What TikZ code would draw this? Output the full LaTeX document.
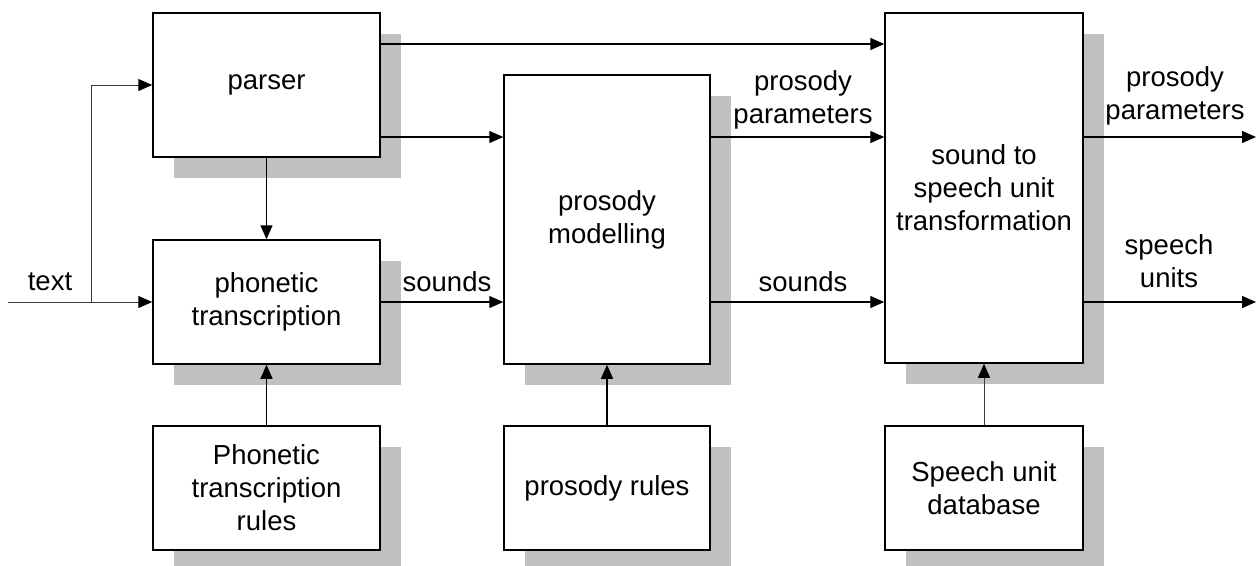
\documentclass[tikz,border=0pt]{standalone}
\usepackage{fontspec}
\setmainfont{Liberation Sans}
\usetikzlibrary{arrows.meta,shadows}
\definecolor{shadowgray}{HTML}{C0C0C0}
\definecolor{linegray}{HTML}{3A3A3A}
\tikzset{
  blk/.style={draw=black, line width=1.5pt, fill=white, align=center,
    font=\fontsize{27.5}{33}\selectfont, inner sep=0pt,
    drop shadow={shadow xshift=21pt, shadow yshift=-21pt, fill=shadowgray, opacity=1, draw=none}},
  conn/.style={line width=1.3pt, -{Triangle[length=14pt,width=12pt,color=black]}},
  thinconn/.style={line width=1pt, draw=linegray, -{Triangle[length=14pt,width=12pt,color=black]}},
  lbl/.style={align=center, font=\fontsize{27.5}{33}\selectfont, inner sep=0pt}
}
\begin{document}
\begin{tikzpicture}[x=1pt,y=-1pt]
\useasboundingbox (0,0) rectangle (1257,565);
% boxes
\node[blk, minimum width=227pt, minimum height=144pt] (parser) at (266.5,85) {parser};
\node[blk, minimum width=227pt, minimum height=124pt] (phon) at (266.5,302) {phonetic\\transcription};
\node[blk, minimum width=227pt, minimum height=124pt] (phonrules) at (266.5,488) {Phonetic\\transcription\\rules};
\node[blk, minimum width=206pt, minimum height=289pt] (prosmod) at (607,219.5) {prosody\\modelling};
\node[blk, minimum width=206pt, minimum height=124pt] (prosrules) at (607,488) {prosody rules};
\node[blk, minimum width=198pt, minimum height=350pt] (s2s) at (984,188) {sound to\\speech unit\\transformation};
\node[blk, minimum width=198pt, minimum height=124pt] (db) at (984,488) {Speech unit\\database};
% input
\coordinate (in) at (8,302);
\coordinate (branch) at (91,302);
\coordinate (out1) at (1256,137);
\coordinate (out2) at (1256,302);
\draw[thinconn] (in) -- (phon.west);
\draw[thinconn] (branch) |- (parser.west);
\node[lbl] (ltext) at (50,282) {text};
% vertical connections
\draw[conn] (parser.south) -- (phon.north);
\draw[conn] (phonrules.north) -- (phon.south);
\draw[conn] (prosrules.north) -- (prosmod.south);
\draw[thinconn] (db.north) -- (s2s.south);
% parser outputs
\draw[conn] (parser.east |- 0,44) -- (s2s.west |- 0,44);
\draw[conn] (parser.east |- 0,137) -- (prosmod.west |- 0,137);
% phon -> prosmod
\draw[conn] (phon.east) -- (prosmod.west |- phon.east);
\node[lbl] (lsounds1) at (447,282) {sounds};
% prosmod -> s2s
\draw[conn] (prosmod.east |- 0,137) -- (s2s.west |- 0,137);
\draw[conn] (prosmod.east |- 0,302) -- (s2s.west |- 0,302);
\node[lbl] (lpp1) at (803,100) {prosody\\parameters};
\node[lbl] (lsounds2) at (803,282) {sounds};
% outputs
\draw[conn] (s2s.east |- out1) -- (out1);
\draw[conn] (s2s.east |- out2) -- (out2);
\node[lbl] (lpp2) at (1175,96) {prosody\\parameters};
\node[lbl] (lsu) at (1169,261) {speech\\units};
\end{tikzpicture}
\end{document}
